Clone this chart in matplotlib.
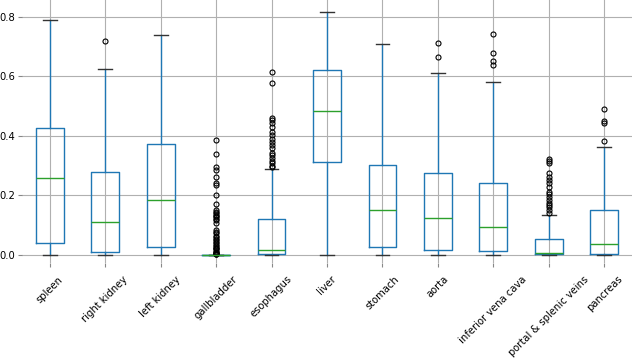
import matplotlib
matplotlib.use("Agg")
import matplotlib.pyplot as plt

organs = ["spleen", "right kidney", "left kidney", "gallbladder", "esophagus", "liver",
          "stomach", "aorta", "inferior vena cava", "portal & splenic veins", "pancreas"]
whislo = [0.0, 0.0, 0.0, 0.0, 0.0, 0.0, 0.0, 0.0, 0.0, 0.0, 0.0]
q1 = [0.039, 0.009, 0.028, 0.0, 0.002, 0.312, 0.028, 0.017, 0.013, 0.002, 0.002]
med = [0.258, 0.110, 0.184, 0.0005, 0.017, 0.485, 0.151, 0.125, 0.094, 0.007, 0.036]
q3 = [0.427, 0.280, 0.374, 0.001, 0.120, 0.623, 0.304, 0.276, 0.243, 0.055, 0.151]
whishi = [0.789, 0.624, 0.741, 0.001, 0.289, 0.818, 0.709, 0.611, 0.582, 0.134, 0.364]

fliers_spleen = []
fliers_right_kidney = [0.720]
fliers_left_kidney = []
fliers_gallbladder = [0.387, 0.339, 0.297, 0.286, 0.263, 0.243, 0.234, 0.203, 0.172, 0.150,
                      0.146, 0.140, 0.134, 0.130, 0.127, 0.120, 0.118, 0.109, 0.084, 0.076,
                      0.073, 0.065, 0.059, 0.055, 0.050, 0.045, 0.041, 0.035, 0.030, 0.025,
                      0.022, 0.019, 0.015, 0.011, 0.008, 0.006, 0.004, 0.003, 0.002]
fliers_esophagus = [0.616, 0.577, 0.459, 0.454, 0.443, 0.431, 0.414, 0.403, 0.389, 0.381,
                    0.370, 0.359, 0.342, 0.336, 0.325, 0.316, 0.308, 0.300, 0.295]
fliers_liver = []
fliers_stomach = []
fliers_aorta = [0.713, 0.664]
fliers_ivc = [0.742, 0.680, 0.652, 0.638]
fliers_portal = [0.323, 0.316, 0.308, 0.275, 0.263, 0.252, 0.241, 0.230, 0.213, 0.205,
                 0.196, 0.185, 0.176, 0.168, 0.160, 0.151, 0.142]
fliers_pancreas = [0.492, 0.450, 0.445, 0.382]

fliers = [fliers_spleen, fliers_right_kidney, fliers_left_kidney, fliers_gallbladder,
          fliers_esophagus, fliers_liver, fliers_stomach, fliers_aorta, fliers_ivc,
          fliers_portal, fliers_pancreas]

stats = []
for i, name in enumerate(organs):
    stats.append(dict(label=name, whislo=whislo[i], q1=q1[i], med=med[i], q3=q3[i],
                      whishi=whishi[i], fliers=fliers[i]))

fig = plt.figure(figsize=(6.4, 3.58), dpi=100)
ax = fig.add_axes([22 / 640, 1 - 263 / 358, (632 - 22) / 640, 263 / 358])

ax.bxp(stats, positions=range(1, len(organs) + 1), widths=0.5, patch_artist=False,
       boxprops=dict(color="#1f77b4", linewidth=1.0),
       whiskerprops=dict(color="#1f77b4", linewidth=1.0),
       capprops=dict(color="#333333", linewidth=1.0),
       medianprops=dict(color="#2ca02c", linewidth=1.0),
       flierprops=dict(marker="o", markerfacecolor="none", markeredgecolor="black",
                       markersize=3.6, markeredgewidth=0.8))

ax.set_xlim(0.5, len(organs) + 0.5)
ax.set_ylim(-0.027, 0.857)
ax.set_yticks([0.0, 0.2, 0.4, 0.6, 0.8])
ax.set_xticks(range(1, len(organs) + 1))
ax.set_xticklabels(organs, rotation=45, ha="center", fontsize=7.2)
ax.tick_params(axis="y", labelsize=7.2, length=3, pad=2, color="#888888")
ax.tick_params(axis="x", length=3, pad=5, color="#888888")
ax.grid(True, color="#b0b0b0", linewidth=0.8)
ax.set_axisbelow(True)
for s in ax.spines.values():
    s.set_visible(False)

fig.savefig("out.png", dpi=100)
